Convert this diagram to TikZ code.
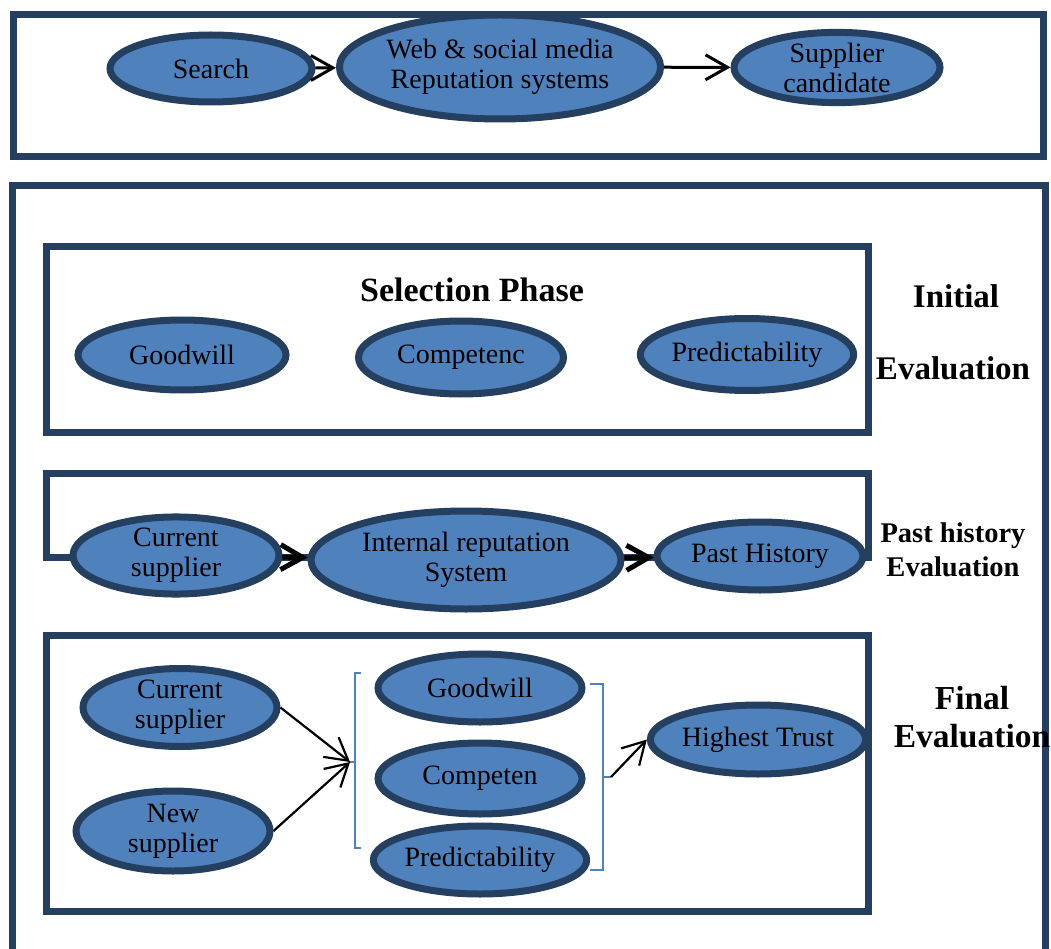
\documentclass[tikz,border=0pt]{standalone}
\usepackage{fontspec}
\setmainfont{Liberation Serif}
\usetikzlibrary{shapes.geometric,arrows.meta}
\definecolor{navy}{HTML}{243F60}
\definecolor{ovalblue}{HTML}{4F81BD}
\tikzset{
  bubble/.style={ellipse, draw=navy, fill=ovalblue, line width=7pt, inner sep=0pt,
    align=center, font=\fontsize{28}{30}\selectfont},
  boxline/.style={draw=navy, line width=7pt},
  phase/.style={align=center, font=\bfseries\fontsize{33}{38}\selectfont},
  arr/.style={-{Straight Barb[length=22pt,width=25pt]}, line width=2.5pt},
  brack/.style={draw=ovalblue, line width=2pt}
}
\begin{document}
\begin{tikzpicture}[x=1pt,y=-1pt]
    \useasboundingbox (0,0) rectangle (1051,949);
    \clip (0,0) rectangle (1051,949);
    % Search stage
        \draw[boxline] (13,15) rectangle (1043,156.5);
        \node[bubble, minimum width=202, minimum height=67] (search) at (211,68.5) {Search};
        \node[bubble, minimum width=302, minimum height=104] (web) at (500,67) {Web \& social media\\Reputation systems};
        \node[bubble, minimum width=206, minimum height=66] (cand) at (837,67.5) {Supplier\\candidate};
        \draw[arr, line width=3pt] (search) -- (web);
        \draw[arr, line width=3pt] (web) -- (cand);
    % Evaluation stage
        \draw[boxline] (12.5,185.5) rectangle (1045,975);
    % Initial evaluation
        \draw[boxline] (46,246.5) rectangle (868,432);
        \node[phase, font=\bfseries\fontsize{34}{38}\selectfont] (selhead) at (472,290) {Selection Phase};
        \node[bubble, minimum width=208, minimum height=70] (good1) at (182,355) {Goodwill};
        \node[bubble, minimum width=205, minimum height=73] (comp1) at (461,357.5) {Competenc};
        \node[bubble, minimum width=208, minimum height=72] (pred1) at (747,354.5) {Predictability};
        \node[phase] (initial) at (956,296.5) {Initial};
        \node[phase] (initeval) at (953,368.5) {Evaluation};
    % Past history evaluation
        \draw[boxline] (46,473) rectangle (868,557);
        \node[bubble, minimum width=206, minimum height=69] (cur1) at (176,555.5) {Current\\supplier};
        \node[bubble, minimum width=310, minimum height=98] (irs) at (466,560) {Internal reputation\\System};
        \node[bubble, minimum width=206, minimum height=68] (past) at (760,556) {Past History};
        \draw[arr, line width=5pt] (cur1) -- (irs);
        \draw[arr, line width=5pt] (irs) -- (past);
        \node[phase, font=\bfseries\fontsize{28.5}{34}\selectfont] (pasteval) at (953,550) {Past history\\Evaluation};
    % Final evaluation
        \draw[boxline] (46,635) rectangle (868,911);
        \node[bubble, minimum width=194, minimum height=78] (cur2) at (180,707.5) {Current\\supplier};
        \node[bubble, minimum width=194, minimum height=80] (new) at (173,831) {New\\supplier};
        \node[bubble, minimum width=204, minimum height=68] (good2) at (480,688) {Goodwill};
        \node[bubble, minimum width=204, minimum height=71] (comp2) at (480,778.5) {Competen};
        \node[bubble, minimum width=204, minimum height=68] (pred2) at (480,860) {Predictability};
        \node[bubble, minimum width=204, minimum height=69] (trust) at (758,739.5) {Highest Trust};
        \node[phase, font=\bfseries\fontsize{33.5}{38}\selectfont] (fineval) at (972,717.5) {Final\\Evaluation};
        \coordinate (lb) at (350,762);
        \coordinate (rb) at (611,777);
        \draw[brack] (361,673) -- (355,673) -- (355,848) -- (361,848);
        \draw[brack] (355,762) -- (lb);
        \draw[brack] (590,684) -- (603,684) -- (603,870) -- (590,870);
        \draw[brack] (603,777) -- (rb);
        \draw[arr, line width=2.2pt] (cur2.east) -- (lb);
        \draw[arr, line width=2.2pt] (new.east) -- (lb);
        \draw[arr, line width=2.2pt] (rb) -- (trust.west);
    \end{tikzpicture}
\end{document}
